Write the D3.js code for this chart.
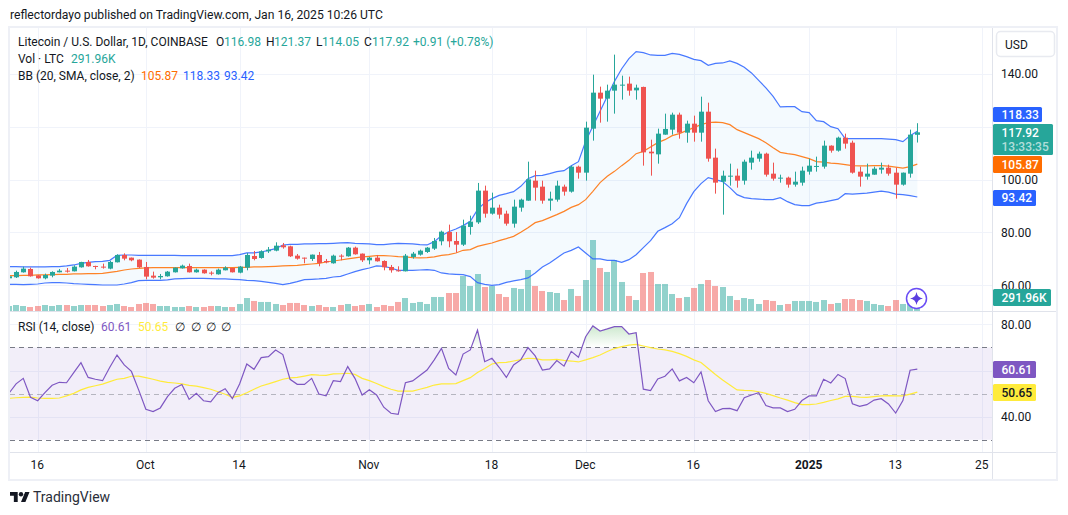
<!DOCTYPE html>
<html>
<head>
<meta charset="utf-8">
<title>Litecoin / U.S. Dollar</title>
<script src="https://cdn.jsdelivr.net/npm/d3@7"></script>
<style>
  html, body { margin: 0; padding: 0; background: #fff; }
  svg { display: block; }
  text { font-family: Roboto, "Noto Sans", sans-serif; fill: #131722; }
</style>
</head>
<body>
<svg id="chart" width="1068" height="515"></svg>
<script>
// Daily LTC/USD sessions, first session 12 Sep 2024
const firstSession = "2024-09-12";

const opens = [62.65,63.03,64.92,66.18,63.78,62.65,63.66,64.92,65.55,65.3,66.81,68.83,67.32,67.07,66.31,68.71,71.48,70.47,69.72,66.94,63.66,63.03,63.41,64.92,66.43,67.32,64.92,65.93,64.79,64.16,65.68,66.56,64.79,66.69,71.1,70.35,72.87,73.12,75.14,74.76,71.23,70.47,69.97,71.48,69.21,68.33,71.23,70.98,74.26,71.99,69.46,70.47,69.21,66.94,65.68,65.3,70.73,71.61,72.62,73.88,76.66,80.19,76.78,75.39,82.09,83.83,95.84,87.13,89.4,87.13,83.34,89.4,92.05,99.62,97.35,92.05,92.43,97.35,95.46,104.92,102.65,119.31,132.94,130.67,133.7,135.7,136.35,133.81,135.1,110.6,109.58,117.04,118.93,124.61,117.79,121.2,117.79,125.74,108.33,99.24,101.25,101.51,99.62,106.44,107.95,109.84,102.27,100.5,100.76,98.11,98.86,103.03,104.92,104.92,112.87,110.98,115.9,114.0,103.03,101.14,101.89,103.79,104.54,102.65,98.11,102.27,116.98];
const highs = [63.66,65.55,67.07,66.69,63.9,64.42,65.3,66.18,66.56,67.57,68.9,69.59,67.4,68.2,69.21,71.74,72.1,70.5,69.8,68.83,65.17,64.29,65.42,66.75,67.82,68.2,66.31,66.06,65.3,66.31,67.19,66.6,67.32,72.24,73.0,73.25,74.51,76.28,76.03,75.0,71.86,70.5,71.65,72.62,69.97,71.61,71.74,74.51,74.64,72.05,70.73,71.48,69.46,67.7,67.19,71.86,72.62,73.5,74.51,77.92,80.69,82.97,80.19,84.86,86.37,98.75,97.73,95.08,90.53,88.26,92.43,92.81,106.81,103.41,99.62,95.46,99.62,98.11,105.3,105.3,121.96,139.75,135.21,135.97,147.33,139.37,139.0,135.97,135.2,115.14,119.31,124.99,125.37,125.37,122.34,124.23,131.42,129.15,111.74,103.41,106.06,104.16,107.57,110.98,110.6,110.22,106.44,101.89,101.14,103.03,104.92,107.95,108.71,114.77,113.0,116.28,117.42,114.77,104.92,106.06,104.92,106.44,105.68,104.54,102.7,118.93,121.37];
const lows = [62.4,62.77,64.8,63.28,62.52,62.27,63.03,64.9,64.8,65.25,66.69,67.07,66.06,66.31,66.06,68.65,69.46,69.1,66.56,62.27,62.52,62.27,63.28,64.85,66.31,64.85,64.8,64.42,63.78,64.04,65.65,64.85,64.54,65.68,69.46,70.09,72.24,72.87,73.88,70.73,69.72,68.33,69.21,67.19,68.33,68.2,69.46,70.85,71.61,68.83,67.95,68.96,65.68,64.79,65.17,65.25,70.09,71.23,72.24,73.38,75.14,74.39,72.37,74.89,79.18,83.23,85.61,86.75,85.23,82.58,81.83,87.88,92.0,92.05,90.91,88.26,91.67,93.94,95.08,100.38,99.62,114.77,121.58,121.96,124.99,130.29,131.8,130.29,105.3,101.51,106.06,117.0,117.04,115.52,114.0,114.39,114.39,106.81,94.7,86.75,97.73,96.97,98.11,103.79,106.81,101.14,99.62,98.86,96.97,97.35,97.73,101.89,103.03,104.16,110.22,110.6,111.74,102.27,97.35,100.0,101.85,102.27,101.51,92.81,97.73,100.76,114.05];
const closes = [63.41,65.05,66.31,63.41,62.65,63.91,65.05,65.55,65.3,67.07,68.83,67.19,67.19,66.81,68.83,71.48,70.09,69.46,66.81,63.28,62.9,63.53,65.17,66.69,67.44,64.92,65.93,64.54,64.54,65.93,66.69,64.92,67.07,71.48,69.97,72.87,73.5,75.0,74.39,70.98,70.09,70.22,71.61,68.45,68.71,71.23,70.98,74.26,71.74,69.46,70.47,69.09,66.81,65.68,65.42,71.23,71.99,73.12,74.26,76.78,80.3,76.66,75.39,82.59,84.1,95.84,87.13,89.4,86.75,83.34,89.78,92.43,100.11,96.97,92.05,92.81,97.73,95.46,104.92,102.65,119.69,132.94,130.67,133.7,135.97,135.97,133.7,134.83,110.34,109.96,117.42,119.2,124.61,117.79,121.2,117.79,125.74,107.95,98.86,101.51,101.51,99.62,106.81,108.33,109.84,101.89,100.38,100.76,98.11,99.24,103.41,105.3,105.19,112.87,110.98,115.9,113.63,102.65,101.14,102.27,104.16,104.54,102.27,98.11,102.65,117.04,117.92];

// Traded volume per session, thousands of LTC
const volumes = [104,125,104,83,104,125,104,125,125,104,125,125,125,104,125,146,104,83,146,167,146,104,104,83,83,104,83,83,104,104,83,83,146,271,209,188,188,146,125,167,167,125,104,125,83,83,125,146,104,125,146,83,125,104,188,271,167,188,146,292,292,375,375,730,521,771,500,521,354,292,480,459,855,521,417,396,375,229,459,313,646,1480,897,813,1063,605,313,229,792,813,563,563,354,271,292,480,563,646,521,500,313,229,271,250,146,229,209,125,146,209,209,209,188,229,146,167,250,250,229,209,146,125,104,229,146,340,291.96];

// Bollinger Bands (20, SMA, close, 2)
const bbBasis = [63.66,63.66,63.78,63.78,63.91,63.91,64.04,64.16,64.16,64.29,64.29,64.42,64.42,64.54,64.92,65.3,65.8,66.18,66.43,66.56,66.69,66.69,66.69,66.69,66.69,66.69,66.69,66.69,66.69,66.69,66.69,66.69,66.81,66.81,66.94,66.94,67.07,67.19,67.32,67.44,67.57,67.82,68.07,68.33,68.83,69.21,69.59,69.97,70.35,70.73,70.98,71.23,71.23,71.1,70.85,70.73,70.47,70.35,70.47,70.73,71.36,71.61,72.24,73.25,73.5,74.75,75.39,76.03,76.9,77.66,78.53,80.05,81.83,83.72,84.48,85.61,86.75,88.0,89.51,90.53,92.43,95.57,98.86,101.25,103.14,105.3,107.31,109.84,110.71,112.38,114.01,115.14,116.66,117.42,118.55,119.69,120.82,121.58,121.77,121.58,120.82,118.93,117.79,116.66,115.52,114.01,112.12,110.34,109.84,109.47,108.71,107.95,106.81,106.63,106.25,106.06,105.68,105.3,105.19,105.19,105.3,105.3,105.11,104.73,104.35,104.92,105.87];
const bbUpper = [67.07,67.07,66.94,66.94,66.94,66.94,67.07,67.07,67.32,67.7,68.33,68.71,68.96,69.09,69.46,71.36,71.48,71.48,71.36,71.36,71.36,71.36,71.3,71.3,71.23,71.23,71.23,71.23,71.23,71.23,71.23,71.23,71.61,72.24,72.24,72.62,73.25,73.88,75.27,75.52,75.52,75.65,75.65,75.77,75.77,75.9,76.03,76.15,75.9,75.77,75.65,75.39,75.39,75.65,75.9,75.77,75.65,75.39,75.27,76.53,78.8,80.3,81.33,82.59,84.21,88.64,91.29,92.81,94.06,94.7,95.46,97.46,100.38,101.51,101.63,102.27,103.03,103.41,105.3,106.81,114.5,120.18,125.86,131.54,137.22,142.0,145.8,148.46,148.08,147.21,147.06,147.06,147.82,147.44,146.57,145.55,145.05,143.27,144.03,144.18,144.94,144.03,142.52,140.4,137.6,134.72,131.54,127.52,127.64,127.64,125.74,125.37,122.34,121.96,120.07,119.31,115.52,115.52,115.52,115.52,115.52,115.52,115.33,115.14,114.39,116.66,118.33];
const bbLower = [60.38,60.38,60.25,60.38,60.5,60.88,61.01,61.01,60.88,60.63,60.5,60.38,60.25,60.12,60.12,60.12,60.5,61.01,61.77,61.89,61.89,61.89,62.02,62.4,62.52,62.65,62.65,62.65,62.52,62.4,62.4,62.27,62.14,61.89,61.77,61.51,61.13,60.76,60.25,60.76,61.39,62.14,62.27,62.4,62.65,63.15,63.41,64.29,65.17,65.93,66.56,67.32,67.19,66.56,65.68,65.68,65.68,65.8,65.93,65.68,64.67,64.29,64.16,64.04,63.28,61.0,60.36,59.98,60.25,61.12,61.65,62.14,62.78,64.68,66.95,68.46,70.36,72.25,73.23,74.52,72.25,69.98,69.98,69.45,69.45,68.69,69.71,71.6,74.26,76.91,80.43,81.83,83.34,85.61,90.91,95.46,98.49,100.76,100.0,99.24,96.97,94.32,93.19,92.81,92.62,92.43,92.43,93.19,91.67,90.53,90.16,90.16,91.1,91.48,92.05,92.62,94.7,94.51,94.7,94.89,95.27,95.65,95.27,94.51,94.32,93.94,93.42];

// RSI (14, close) and its moving average
const rsiValues = [50.1,54.2,56.6,48.4,46.9,50.4,53.6,54.9,54.7,59.1,63.4,57.0,56.2,55.6,61.4,66.7,62.4,59.6,51.6,43.2,42.2,43.8,48.7,52.3,53.9,47.5,50.1,46.9,46.4,50.4,52.1,47.8,54.2,62.8,60.5,65.6,66.0,68.9,66.9,56.2,54.0,54.0,56.6,49.8,49.0,55.6,55.2,61.7,56.6,49.4,51.7,49.4,44.1,41.5,41.0,54.7,55.5,57.8,60.2,64.6,69.6,60.9,58.1,67.1,68.9,77.5,63.8,65.3,61.4,57.0,62.4,64.6,69.9,66.3,60.2,60.7,64.3,61.9,68.3,65.7,74.6,79.3,77.1,78.0,79.0,79.0,75.8,76.4,51.9,51.3,56.3,57.5,60.7,55.5,57.0,54.7,59.4,46.9,42.2,43.5,43.6,42.6,48.2,49.4,50.4,44.8,43.8,43.8,42.2,43.2,47.0,49.0,49.0,56.2,54.6,58.3,56.5,45.6,44.5,45.2,47.2,47.8,45.5,41.6,47.0,60.1,60.61];
const rsiMa = [47.95,48.2,48.4,48.5,48.1,47.95,47.95,48.1,49.0,50.1,51.6,52.7,53.4,54.1,55.2,56.2,56.6,57.5,57.6,56.9,56.2,55.4,54.9,54.6,54.2,53.6,53.2,52.6,51.9,50.8,49.7,48.4,49.0,50.4,51.9,53.3,54.2,55.2,56.2,56.8,57.0,57.6,58.2,58.0,57.9,58.5,58.6,58.8,58.3,56.6,55.6,54.4,53.0,51.9,51.1,51.1,51.1,51.9,52.7,53.7,54.2,54.2,54.3,55.6,56.9,59.1,60.9,62.8,63.4,63.5,64.1,64.7,65.3,65.1,64.6,64.6,64.8,64.4,64.1,63.7,64.6,65.6,66.7,68.2,69.5,70.3,71.0,71.3,70.6,69.9,69.3,68.9,68.3,67.3,66.1,64.6,63.5,60.9,58.3,55.9,53.7,51.6,51.4,51.3,50.8,50.1,49.1,48.1,47.2,46.1,45.2,45.2,45.5,46.2,47.0,47.7,48.8,48.8,48.5,48.4,48.7,49.0,49.1,49.0,49.0,49.8,50.65];

// Axis ticks
const priceGridTicks = [140, 120, 100, 80, 60];
const priceLabelTicks = [140, 100, 80, 60];
const rsiGridTicks = [80, 60, 40];
const rsiLabelTicks = [80, 40];
const timeTickDates = ["2024-09-16","2024-10-01","2024-10-14","2024-11-01","2024-11-18","2024-12-01","2024-12-16","2025-01-01","2025-01-13","2025-01-25"];
const timeTickLabels = ["16","Oct","14","Nov","18","Dec","16","2025","13","25"];

// Palette
const UP = "#26a69a", DOWN = "#ef5350", BLUE = "#2962ff", ORANGE = "#ff6d00",
      PURPLE = "#7e57c2", YELLOW = "#ffeb3b", GRID = "#f0f3fa", FRAME = "#e0e3eb",
      BORDER = "#eef0f6", INK = "#131722";
const FONT = 'Roboto, "Noto Sans", sans-serif';

// Pane geometry
const pane = { left: 10, right: 992, top: 28, priceBottom: 311, rsiBottom: 452, bottom: 480, outer: 1056 };

const parse = d3.utcParse("%Y-%m-%d");
const sessions = opens.map((_, i) => d3.utcDay.offset(parse(firstSession), i));
const rows = sessions.map((date, i) => ({
  date, o: opens[i], h: highs[i], l: lows[i], c: closes[i], v: volumes[i],
  basis: bbBasis[i], upper: bbUpper[i], lower: bbLower[i], rsi: rsiValues[i], ma: rsiMa[i],
  up: closes[i] >= opens[i]
}));

const x = d3.scaleUtc().domain([parse("2024-09-16"), parse("2025-01-25")]).range([37.7, 982.2]);
const yPrice = d3.scaleLinear().domain([60, 140]).range([285.3, 74]);
const yVol = d3.scaleLinear().domain([0, 1480]).range([311, 240]);
const yRsi = d3.scaleLinear().domain([40, 80]).range([416.7, 324.3]);

const svg = d3.select("#chart");
const defs = svg.append("defs");
defs.append("clipPath").attr("id", "priceClip").append("rect")
  .attr("x", pane.left).attr("y", pane.top).attr("width", pane.right - pane.left).attr("height", pane.priceBottom - pane.top);
defs.append("clipPath").attr("id", "rsiClip").append("rect")
  .attr("x", pane.left).attr("y", pane.priceBottom).attr("width", pane.right - pane.left).attr("height", pane.rsiBottom - pane.priceBottom);
defs.append("clipPath").attr("id", "overboughtClip").append("rect")
  .attr("x", pane.left).attr("y", pane.priceBottom).attr("width", pane.right - pane.left).attr("height", yRsi(70) - pane.priceBottom);
const grad = defs.append("linearGradient").attr("id", "overboughtFill")
  .attr("gradientUnits", "userSpaceOnUse").attr("x1", 0).attr("x2", 0).attr("y1", yRsi(80)).attr("y2", yRsi(70));
grad.append("stop").attr("offset", 0).attr("stop-color", "#4caf50").attr("stop-opacity", 0.3);
grad.append("stop").attr("offset", 1).attr("stop-color", "#4caf50").attr("stop-opacity", 0);

const crisp = v => Math.round(v) + 0.5;

// Vertical and horizontal grid lines
const grid = svg.append("g").attr("stroke", GRID).attr("stroke-width", 1);
grid.selectAll(".vgrid").data(timeTickDates).join("line")
  .attr("x1", d => crisp(x(parse(d)))).attr("x2", d => crisp(x(parse(d))))
  .attr("y1", pane.top).attr("y2", pane.rsiBottom);
grid.selectAll(".hprice").data(priceGridTicks).join("line")
  .attr("x1", pane.left).attr("x2", pane.right)
  .attr("y1", d => crisp(yPrice(d))).attr("y2", d => crisp(yPrice(d)));
grid.selectAll(".hrsi").data(rsiGridTicks).join("line")
  .attr("x1", pane.left).attr("x2", pane.right)
  .attr("y1", d => crisp(yRsi(d))).attr("y2", d => crisp(yRsi(d)));

// Price pane
const price = svg.append("g").attr("clip-path", "url(#priceClip)");

price.append("g").selectAll("rect").data(rows).join("rect")
  .attr("x", d => Math.round(x(d.date)) - 3)
  .attr("width", 6)
  .attr("y", d => yVol(d.v))
  .attr("height", d => yVol(0) - yVol(d.v))
  .attr("fill", d => d.up ? UP : DOWN)
  .attr("fill-opacity", 0.5);

const bandArea = d3.area().x(d => x(d.date)).y0(d => yPrice(d.lower)).y1(d => yPrice(d.upper));
price.append("path").datum(rows).attr("d", bandArea).attr("fill", "#2196f3").attr("fill-opacity", 0.05);

const priceLine = key => d3.line().x(d => x(d.date)).y(d => yPrice(d[key]));
[["upper", BLUE], ["lower", BLUE], ["basis", ORANGE]].forEach(([key, colour]) => {
  price.append("path").datum(rows).attr("d", priceLine(key))
    .attr("fill", "none").attr("stroke", colour).attr("stroke-width", 1.2).attr("stroke-opacity", 0.85);
});

const candles = price.append("g").selectAll("g").data(rows).join("g");
candles.append("line")
  .attr("x1", d => Math.round(x(d.date)) + 0.5).attr("x2", d => Math.round(x(d.date)) + 0.5)
  .attr("y1", d => yPrice(d.h)).attr("y2", d => yPrice(d.l))
  .attr("stroke", d => d.up ? UP : DOWN).attr("stroke-width", 1);
candles.append("rect")
  .attr("x", d => Math.round(x(d.date)) - 2).attr("width", 5)
  .attr("y", d => yPrice(Math.max(d.o, d.c)))
  .attr("height", d => Math.max(1, Math.abs(yPrice(d.o) - yPrice(d.c))))
  .attr("fill", d => d.up ? UP : DOWN);

// Badge over the newest volume bar
const badge = svg.append("g").attr("transform", "translate(916.5,298.5)");
badge.append("circle").attr("r", 10).attr("fill", "#fff").attr("stroke", "#6a4df5").attr("stroke-width", 1.5);
badge.append("path").attr("d", "M0,-6.5Q0.9,-0.9 6.5,0Q0.9,0.9 0,6.5Q-0.9,0.9 -6.5,0Q-0.9,-0.9 0,-6.5Z").attr("fill", "#5b3fe0");

// RSI pane
const rsiPane = svg.append("g").attr("clip-path", "url(#rsiClip)");
rsiPane.append("rect").attr("x", pane.left).attr("width", pane.right - pane.left)
  .attr("y", yRsi(70)).attr("height", yRsi(30) - yRsi(70)).attr("fill", PURPLE).attr("fill-opacity", 0.1);
[[70, "#787b86"], [30, "#787b86"], [50, "rgba(120,123,134,0.5)"]].forEach(([level, colour]) => {
  rsiPane.append("line").attr("x1", pane.left).attr("x2", pane.right)
    .attr("y1", crisp(yRsi(level))).attr("y2", crisp(yRsi(level)))
    .attr("stroke", colour).attr("stroke-dasharray", "5 4");
});
const overbought = d3.area().x(d => x(d.date)).y0(yRsi(70)).y1(d => yRsi(d.rsi));
rsiPane.append("path").datum(rows).attr("d", overbought)
  .attr("fill", "url(#overboughtFill)").attr("clip-path", "url(#overboughtClip)");
rsiPane.append("path").datum(rows).attr("d", d3.line().x(d => x(d.date)).y(d => yRsi(d.ma)))
  .attr("fill", "none").attr("stroke", YELLOW).attr("stroke-width", 1.2);
rsiPane.append("path").datum(rows).attr("d", d3.line().x(d => x(d.date)).y(d => yRsi(d.rsi)))
  .attr("fill", "none").attr("stroke", PURPLE).attr("stroke-width", 1.2);

// Frame, pane separators
svg.append("rect").attr("x", 9).attr("y", 27).attr("width", 1048).attr("height", 453)
  .attr("fill", "none").attr("stroke", BORDER).attr("stroke-width", 2);
const seps = svg.append("g").attr("stroke", FRAME).attr("stroke-width", 1);
seps.append("line").attr("x1", pane.right + 0.5).attr("x2", pane.right + 0.5).attr("y1", pane.top).attr("y2", pane.bottom - 1);
seps.append("line").attr("x1", pane.left).attr("x2", pane.outer).attr("y1", pane.priceBottom + 0.5).attr("y2", pane.priceBottom + 0.5);
seps.append("line").attr("x1", pane.left).attr("x2", pane.outer).attr("y1", pane.rsiBottom + 0.5).attr("y2", pane.rsiBottom + 0.5);

// Axes
const styleAxis = g => {
  g.select(".domain").remove();
  g.selectAll(".tick line").remove();
  g.selectAll(".tick text").attr("font-family", FONT).attr("font-size", 12).style("fill", INK);
};
svg.append("g").attr("transform", `translate(${pane.right + 9},0)`)
  .call(d3.axisRight(yPrice).tickValues(priceLabelTicks).tickFormat(d3.format(".2f")).tickSize(0).tickPadding(0))
  .call(styleAxis);
svg.append("g").attr("transform", `translate(${pane.right + 9},0)`)
  .call(d3.axisRight(yRsi).tickValues(rsiLabelTicks).tickFormat(d3.format(".2f")).tickSize(0).tickPadding(0))
  .call(styleAxis);
svg.append("g").attr("transform", `translate(-1,${pane.rsiBottom + 8})`)
  .call(d3.axisBottom(x).tickValues(timeTickDates.map(parse))
    .tickFormat((d, i) => timeTickLabels[i]).tickSize(0).tickPadding(0))
  .call(styleAxis);
svg.selectAll(".tick text").filter(function () { return this.textContent === "2025"; }).attr("font-weight", 700);

// Text helper
const txt = (s, px, py, opts = {}) => svg.append("text").attr("x", px).attr("y", py)
  .attr("font-size", opts.size || 12).attr("font-weight", opts.weight || 400)
  .attr("text-anchor", opts.anchor || "start").style("fill", opts.fill || INK).text(s);

// Byline
txt("reflectordayo published on TradingView.com, Jan 16, 2025 10:26 UTC", 10, 19, { size: 12.15 });

// Legend rows
txt("Litecoin / U.S. Dollar, 1D, COINBASE", 18, 46);
[["O", 216, "116.98", 224], ["H", 266, "121.37", 274], ["L", 316, "114.05", 322], ["C", 364, "117.92", 372]].forEach(([k, kx, val, vx]) => {
  txt(k, kx, 46);
  txt(val, vx, 46, { fill: UP });
});
txt("+0.91 (+0.78%)", 413, 46, { fill: UP });
txt("Vol · LTC", 18, 63);
txt("291.96K", 71, 63, { fill: UP });
txt("BB (20, SMA, close, 2)", 18, 80);
txt("105.87", 141, 80, { fill: ORANGE });
txt("118.33", 183, 80, { fill: BLUE });
txt("93.42", 224, 80, { fill: BLUE });
txt("RSI (14, close)", 18, 331);
txt("60.61", 101, 331, { fill: PURPLE });
txt("50.65", 138, 331, { fill: YELLOW });
[175, 191, 206, 221].forEach(px => txt("∅", px, 331));

// Currency button
svg.append("rect").attr("x", 996.5).attr("y", 31.5).attr("width", 58).attr("height", 25).attr("rx", 4)
  .attr("fill", "#fff").attr("stroke", "#e8eaf0").attr("stroke-width", 1.5);
txt("USD", 1005, 48.5);

// Last-value tags on the scales
const tag = (rx, ry, w, h, fill, lines) => {
  svg.append("rect").attr("x", rx).attr("y", ry).attr("width", w).attr("height", h).attr("rx", 1.5).attr("fill", fill);
  lines.forEach(l => txt(l.t, rx + 8.5, l.y, { fill: l.fill || "#fff", size: 12, weight: l.weight || 500 }));
};
tag(993, 107, 49, 15, BLUE, [{ t: "118.33", y: 119 }]);
tag(993, 124, 60, 31, UP, [{ t: "117.92", y: 137 }, { t: "13:33:35", y: 151, fill: "rgba(255,255,255,0.65)" }]);
tag(993, 156, 49, 17, ORANGE, [{ t: "105.87", y: 169 }]);
tag(993, 190, 43, 16, BLUE, [{ t: "93.42", y: 202 }]);
tag(993, 289, 58, 17, UP, [{ t: "291.96K", y: 302 }]);
tag(993, 361, 43, 17, PURPLE, [{ t: "60.61", y: 374 }]);
tag(993, 384, 43, 17, YELLOW, [{ t: "50.65", y: 397, fill: INK }]);

// Wordmark under the frame
const mark = svg.append("g").attr("transform", "translate(10,489.8) scale(0.55)").attr("fill", INK);
mark.append("path").attr("d", "M14 22H7V11H0V4h14v18zM28 22h-8l7.5-18h8L28 22z");
mark.append("circle").attr("cx", 20).attr("cy", 8).attr("r", 4);
txt("TradingView", 33, 502, { size: 14, fill: "#2a2e39" });
</script>
</body>
</html>
